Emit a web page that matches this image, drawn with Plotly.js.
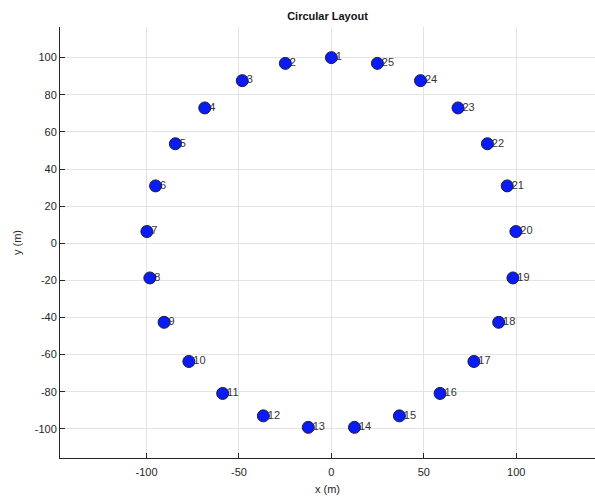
<!DOCTYPE html>
<html>
<head>
<meta charset="utf-8">
<script src="https://cdn.plot.ly/plotly-3.0.1.min.js"></script>
<style>
  html, body { margin: 0; padding: 0; background: #fff; }
  #chart { width: 595px; height: 498px; }
</style>
</head>
<body>
<div id="chart"></div>
<script>
// Node positions (m) for the 25-node circular layout
const nodeIds = ['1','2','3','4','5','6','7','8','9','10','11','12','13',
                 '14','15','16','17','18','19','20','21','22','23','24','25'];
const nodeX = [0, -24.9, -48.2, -68.5, -84.4, -95.1, -99.8, -98.2, -90.5, -77.1, -58.8, -36.8, -12.5,
               12.5, 36.8, 58.8, 77.1, 90.5, 98.2, 99.8, 95.1, 84.4, 68.5, 48.2, 24.9];
const nodeY = [100, 96.9, 87.6, 72.9, 53.6, 30.9, 6.3, -18.7, -42.6, -63.7, -80.9, -93.0, -99.2,
               -99.2, -93.0, -80.9, -63.7, -42.6, -18.7, 6.3, 30.9, 53.6, 72.9, 87.6, 96.9];
const xTicks = [-100, -50, 0, 50, 100];
const yTicks = [-100, -80, -60, -40, -20, 0, 20, 40, 60, 80, 100];
// plain hyphen-minus for negative tick labels
const xTickText = xTicks.map(String);
const yTickText = yTicks.map(String);

const FONT = 'Liberation Sans, Helvetica, Arial, sans-serif';
const labelShift = 2.4; // data units to the right of each node

const labels = {
  type: 'scatter',
  mode: 'text',
  x: nodeX.map(v => v + labelShift),
  y: nodeY,
  text: nodeIds,
  textposition: 'middle right',
  textfont: { family: FONT, size: 11, color: '#333333' },
  hoverinfo: 'skip',
  showlegend: false
};

const nodes = {
  type: 'scatter',
  mode: 'markers',
  x: nodeX,
  y: nodeY,
  marker: { size: 12, color: '#0a1cf5', line: { color: '#1a1a40', width: 1 } },
  showlegend: false
};

const axisCommon = {
  showline: true,
  linecolor: '#262626',
  linewidth: 1,
  ticks: 'inside',
  ticklen: 5,
  tickcolor: '#262626',
  showgrid: true,
  gridcolor: '#e3e3e3',
  gridwidth: 1,
  zeroline: false,
  mirror: false,
  tickfont: { family: FONT, size: 11, color: '#262626' }
};

const layout = {
  width: 595,
  height: 498,
  margin: { l: 60, r: 0, t: 27, b: 40 },
  paper_bgcolor: '#ffffff',
  plot_bgcolor: '#ffffff',
  title: {
    text: '<b>Circular Layout</b>',
    font: { family: FONT, size: 11, color: '#111111' },
    x: 0.5, xref: 'paper', xanchor: 'center',
    y: 0.968, yref: 'container', yanchor: 'middle'
  },
  xaxis: Object.assign({}, axisCommon, {
    range: [-146.8, 142.6],
    tickvals: xTicks,
    ticktext: xTickText,
    ticklabelstandoff: 4,
    title: { text: 'x (m)', font: { family: FONT, size: 11, color: '#262626' }, standoff: 8 }
  }),
  yaxis: Object.assign({}, axisCommon, {
    range: [-115.7, 116.5],
    tickvals: yTicks,
    ticktext: yTickText,
    title: { text: 'y (m)', font: { family: FONT, size: 11, color: '#262626' }, standoff: 10 }
  }),
  showlegend: false
};

Plotly.newPlot('chart', [labels, nodes], layout, { displayModeBar: false, staticPlot: true });
</script>
</body>
</html>
